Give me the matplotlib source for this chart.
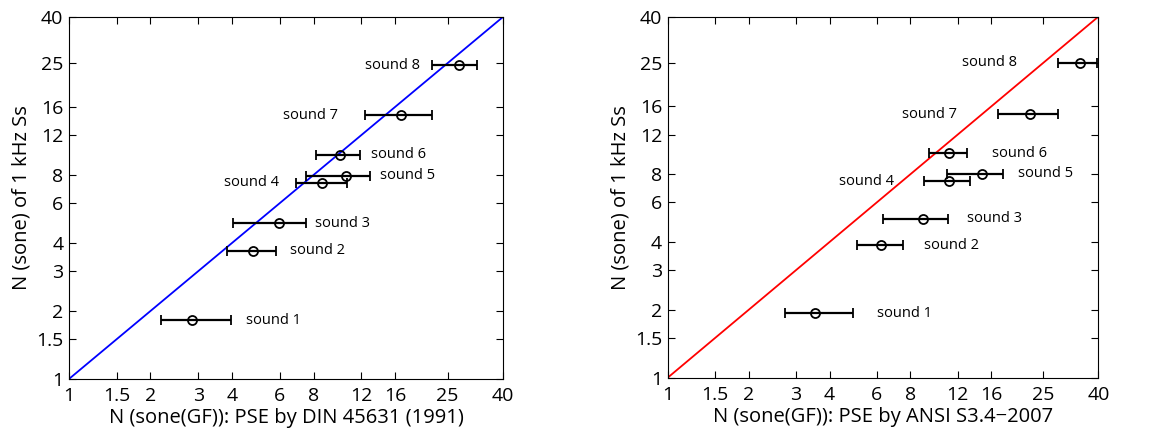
import matplotlib
matplotlib.use("Agg")
import matplotlib.pyplot as plt
from matplotlib.ticker import FixedLocator, FixedFormatter, NullLocator

plt.rcParams["font.family"] = ["Open Sans", "DejaVu Sans"]

ticks = [1, 1.5, 2, 3, 4, 6, 8, 12, 16, 25, 40]
tick_labels = ["1", "1.5", "2", "3", "4", "6", "8", "12", "16", "25", "40"]
names = ["sound 1", "sound 2", "sound 3", "sound 4", "sound 5", "sound 6", "sound 7", "sound 8"]

# y: loudness of matched 1 kHz tone (sone), shared-ish by both panels
din_y = [1.82, 3.69, 4.88, 7.38, 7.93, 9.81, 14.7, 24.45]
din_x = [2.85, 4.78, 5.97, 8.60, 10.57, 9.99, 16.77, 27.45]
din_lo = [2.18, 3.84, 4.02, 6.86, 7.53, 8.19, 12.36, 21.95]
din_hi = [3.95, 5.83, 7.53, 10.63, 12.93, 11.84, 21.95, 32.17]
din_lab_x = [4.52, 6.53, 8.08, 3.73, 14.11, 13.07, 6.17, 12.43]

ansi_y = [1.93, 3.87, 5.08, 7.46, 8.04, 9.90, 14.79, 25.0]
ansi_x = [3.54, 6.22, 8.93, 11.10, 14.81, 11.13, 22.27, 34.19]
ansi_lo = [2.72, 5.05, 6.31, 8.98, 10.97, 9.35, 16.89, 28.31]
ansi_hi = [4.88, 7.48, 11.03, 13.32, 17.73, 12.99, 28.40, 39.43]
ansi_lab_x = [6.02, 9.01, 13.02, 4.33, 20.04, 16.04, 7.42, 12.41]

fig = plt.figure(figsize=(11.53, 4.32), dpi=100)
ax1 = fig.add_axes([0.0598, 0.1227, 0.3764, 0.838])
ax2 = fig.add_axes([0.5791, 0.1257, 0.3735, 0.8357])

panels = [
    (ax1, din_x, din_y, din_lo, din_hi, din_lab_x, "#0000ff",
     "N (sone(GF)): PSE by DIN 45631 (1991)"),
    (ax2, ansi_x, ansi_y, ansi_lo, ansi_hi, ansi_lab_x, "#ff0000",
     "N (sone(GF)): PSE by ANSI S3.4\u22122007"),
]

for ax, xs, ys, lo, hi, lab_x, col, xlabel in panels:
    ax.set_xscale("log")
    ax.set_yscale("log")
    ax.plot([1, 40], [1, 40], color=col, lw=1.3, zorder=1)
    xerr = [[x - l for x, l in zip(xs, lo)], [h - x for x, h in zip(xs, hi)]]
    ax.errorbar(xs, ys, xerr=xerr, fmt="o", mfc="none", mec="black", mew=1.3,
                ms=6.5, ecolor="black", elinewidth=1.6, capsize=3.5, capthick=1.4,
                zorder=3)
    for name, lx, y in zip(names, lab_x, ys):
        ax.text(lx, y, name, fontsize=10.5, ha="left", va="center")
    ax.set_xlim(1, 40)
    ax.set_ylim(1, 40)
    for axis in (ax.xaxis, ax.yaxis):
        axis.set_major_locator(FixedLocator(ticks))
        axis.set_major_formatter(FixedFormatter(tick_labels))
        axis.set_minor_locator(NullLocator())
    ax.tick_params(direction="in", top=True, right=True, labelsize=14,
                   length=5, width=0.8)
    ax.tick_params(axis="x", pad=6)
    ax.tick_params(axis="y", pad=4)
    for s in ax.spines.values():
        s.set_linewidth(0.8)
    ax.set_xlabel(xlabel, fontsize=14.5, labelpad=2)
    ax.set_ylabel("N (sone) of 1 kHz Ss", fontsize=14.5, labelpad=3)

fig.savefig("out.png", dpi=100)
